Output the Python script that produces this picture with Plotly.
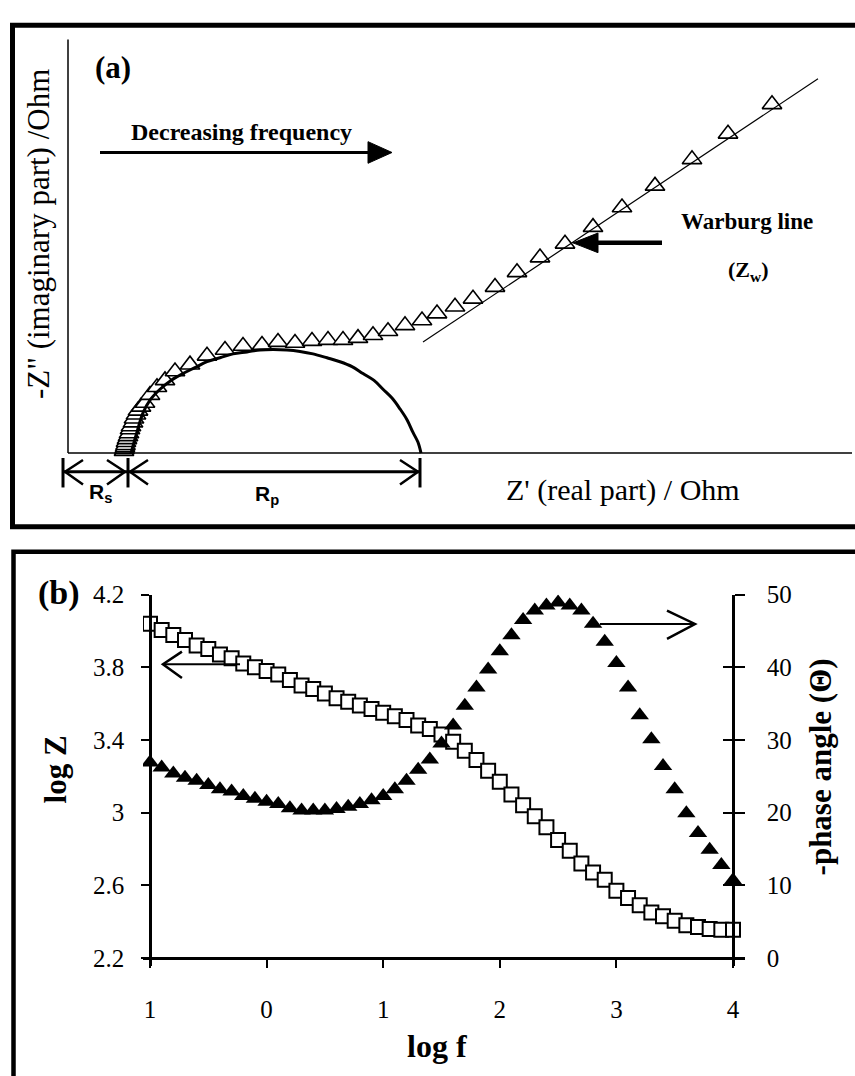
import plotly.graph_objects as go

W, H = 855, 1076

# ---------------- Panel (a): Nyquist plot (arbitrary Ohm units) ----------------
z_real = [56, 56.5, 57, 57.5, 58, 59, 60, 61, 62, 63, 65, 66, 68, 70, 73, 77, 82, 89, 97, 107,
          122, 139, 157, 175, 194, 210, 227, 244, 260, 275, 290, 305, 320, 337, 354, 369, 387,
          405, 427, 449, 472, 497, 525, 554, 587, 624, 660, 704]
z_imag = [2, 4, 6, 8, 11, 14, 17, 20, 24, 27, 31, 35, 39, 43, 47, 51, 59, 67, 74, 83,
          90, 99, 105, 109, 110, 113, 112, 114, 115, 115, 117, 120, 124, 130, 135, 142, 149,
          157, 169, 184, 199, 213, 230, 250, 272, 299, 325, 355]

fit_real = [63, 68, 75, 82, 92, 103, 115, 127, 139, 152, 165, 179, 192, 205, 219, 232, 245,
            259, 272, 284, 295, 306, 315, 324, 332, 339, 345, 350, 353]
fit_imag = [0, 18, 41, 54, 65, 74, 81, 87, 93, 97, 101, 103, 105, 105.5, 105, 103.5, 101,
            97, 93, 88, 81, 74, 65, 56, 45, 34, 21, 11, 0]

warburg_real = [355, 750]
warburg_imag = [113, 381]

# ---------------- Panel (b): Bode plot ----------------
log_f = [-1.0, -0.9, -0.8, -0.7, -0.6, -0.5, -0.4, -0.3, -0.2, -0.1, 0.0, 0.1, 0.2, 0.3, 0.4,
         0.5, 0.6, 0.7, 0.8, 0.9, 1.0, 1.1, 1.2, 1.3, 1.4, 1.5, 1.6, 1.7, 1.8, 1.9, 2.0, 2.1,
         2.2, 2.3, 2.4, 2.5, 2.6, 2.7, 2.8, 2.9, 3.0, 3.1, 3.2, 3.3, 3.4, 3.5, 3.6, 3.7, 3.8,
         3.9, 4.0]
log_Z = [4.04, 4.005, 3.978, 3.95, 3.92, 3.90, 3.87, 3.85, 3.82, 3.80, 3.78, 3.76, 3.73, 3.70,
         3.68, 3.655, 3.63, 3.61, 3.59, 3.57, 3.55, 3.53, 3.51, 3.48, 3.46, 3.43, 3.39, 3.34,
         3.29, 3.23, 3.17, 3.10, 3.04, 2.98, 2.92, 2.85, 2.79, 2.72, 2.67, 2.63, 2.57, 2.53,
         2.49, 2.45, 2.43, 2.405, 2.38, 2.37, 2.36, 2.355, 2.355]
phase = [26.9, 26.2, 25.4, 24.8, 24.4, 23.8, 23.2, 22.9, 22.3, 21.9, 21.5, 21.2, 20.6, 20.3,
         20.3, 20.3, 20.5, 20.8, 21.2, 21.7, 22.3, 23.2, 24.4, 25.9, 27.3, 29.5, 32.0, 34.7,
         37.2, 39.7, 42.2, 44.4, 46.5, 47.8, 48.5, 48.9, 48.5, 47.8, 46.0, 43.5, 40.6, 37.2,
         33.4, 30.1, 26.4, 23.2, 19.9, 17.2, 14.9, 12.8, 10.7]

x_tickvals = [-1, 0, 1, 2, 3, 4]
x_ticktext = ["1", "0", "1", "2", "3", "4"]
logz_tickvals = [2.2, 2.6, 3.0, 3.4, 3.8, 4.2]
logz_ticktext = ["2.2", "2.6", "3", "3.4", "3.8", "4.2"]
phase_tickvals = [0, 10, 20, 30, 40, 50]

SERIF = "Liberation Serif"
SANS = "Liberation Sans"


def px(x):
    return x / W


def py(y):
    return 1 - y / H


fig = go.Figure()

# panel (a) traces
fig.add_trace(go.Scatter(x=z_real, y=z_imag, mode="markers", xaxis="x", yaxis="y",
                         marker=dict(symbol="triangle-up", size=17, color="white",
                                     line=dict(color="black", width=1.6)),
                         hoverinfo="skip"))
fig.add_trace(go.Scatter(x=fit_real, y=fit_imag, mode="lines", xaxis="x", yaxis="y",
                         line=dict(color="black", width=3, shape="spline"), hoverinfo="skip"))
fig.add_trace(go.Scatter(x=warburg_real, y=warburg_imag, mode="lines", xaxis="x", yaxis="y",
                         line=dict(color="black", width=1.2), hoverinfo="skip"))

# panel (b) traces
fig.add_trace(go.Scatter(x=log_f, y=log_Z, mode="markers", xaxis="x2", yaxis="y2",
                         marker=dict(symbol="square", size=14, color="white",
                                     line=dict(color="black", width=2)),
                         hoverinfo="skip"))
fig.add_trace(go.Scatter(x=log_f, y=phase, mode="markers", xaxis="x2", yaxis="y3",
                         marker=dict(symbol="triangle-up", size=16, color="black",
                                     line=dict(width=0)),
                         hoverinfo="skip"))
fig.add_trace(go.Scatter(x=[None], y=[None], mode="markers", xaxis="x2", yaxis="y4",
                         hoverinfo="skip"))

shapes = []
# panel frames
shapes.append(dict(type="rect", xref="paper", yref="paper", x0=px(12.5), x1=px(880),
                   y0=py(523), y1=py(12.5), line=dict(color="black", width=5)))
shapes.append(dict(type="rect", xref="paper", yref="paper", x0=px(13.5), x1=px(880),
                   y0=py(1100), y1=py(548.5), line=dict(color="black", width=4.5)))


def seg(x0, y0, x1, y1, w, xr="x", yr="y", color="black"):
    shapes.append(dict(type="line", xref=xr, yref=yr, x0=x0, y0=y0, x1=x1, y1=y1,
                       line=dict(color=color, width=w)))


def path(d, w, xr="x", yr="y", fill=None):
    s = dict(type="path", xref=xr, yref=yr, path=d, line=dict(color="black", width=w))
    if fill:
        s["fillcolor"] = fill
    shapes.append(s)


# panel (a) axes lines
seg(0, 0, 0, 421, 1.5)
seg(0, 0, 784, 0, 1.5)

# Rs / Rp dimension markers
for xb in (-5, 60, 352):
    seg(xb, -5, xb, -35, 3)
seg(-5, -19, 60, -19, 3)
seg(60, -19, 352, -19, 3)
path("M 15,-7 L -3,-19 L 15,-32", 2.5)
path("M 39,-7 L 57,-19 L 39,-32", 2.5)
path("M 80,-7 L 62,-19 L 80,-32", 2.5)
path("M 332,-7 L 350,-19 L 332,-32", 2.5)

# Decreasing frequency arrow
seg(32, 306, 302, 306, 3)
path("M 300,317 L 324,306 L 300,295 Z", 1, fill="black")

# Warburg arrow
seg(527, 214, 594, 214, 4.5)
path("M 505,214 L 530,224 L 530,204 Z", 1, fill="black")

# panel (b) arrows
seg(-0.889, 3.816, -0.228, 3.816, 2, xr="x2", yr="y2")
path("M -0.726,3.886 L -0.889,3.816 L -0.726,3.741", 2.5, xr="x2", yr="y2")
seg(2.859, 45.95, 3.674, 45.95, 2, xr="x2", yr="y3")
path("M 3.434,47.8 L 3.674,45.95 L 3.434,43.9", 2.5, xr="x2", yr="y3")

annotations = []


def note(text, x, y, size, bold=False, angle=0, family=SERIF):
    if bold:
        text = "<b>" + text + "</b>"
    annotations.append(dict(text=text, x=px(x), y=py(y), xref="paper", yref="paper",
                            xanchor="center", yanchor="middle", showarrow=False,
                            textangle=angle, font=dict(family=family, size=size, color="black")))


note("(a)", 113, 55, 31, bold=True)
note("Decreasing frequency", 242, 121, 24, bold=True)
note("Warburg line", 747, 212, 23, bold=True)
note("(Z<sub>w</sub>)", 748, 263, 22, bold=True)
note("Z' (real part) / Ohm", 623, 486, 30)
note('-Z" (imaginary part) /Ohm', 38, 225, 31, angle=-90)
note("R<sub>s</sub>", 100, 489, 21, bold=True, family=SANS)
note("R<sub>p</sub>", 267, 491, 21, bold=True, family=SANS)
note("(b)", 59, 590, 34, bold=True)
note("log Z", 55, 770, 31, bold=True, angle=-90)
note("-phase angle (Θ)", 820, 768, 31, bold=True, angle=-90)
note("log f", 437, 1052, 32, bold=True)

tickfont = dict(family=SERIF, size=25, color="black")

fig.update_layout(
    width=W, height=H,
    margin=dict(l=0, r=0, t=0, b=0),
    paper_bgcolor="white", plot_bgcolor="rgba(0,0,0,0)",
    showlegend=False,
    shapes=shapes,
    annotations=annotations,
    xaxis=dict(domain=[px(20), px(852)], range=[-48, 784], visible=False, anchor="y"),
    yaxis=dict(domain=[py(512), py(20)], range=[-64, 428], visible=False, anchor="x"),
    xaxis2=dict(domain=[px(143), px(745)], range=[-1.06, 4.103], anchor="free",
                position=py(962), showline=True, linecolor="black", linewidth=2.5,
                ticks="outside", ticklen=8, tickwidth=2, tickcolor="black",
                tickvals=x_tickvals, ticktext=x_ticktext, tickfont=tickfont,
                ticklabelstandoff=20, showgrid=False, zeroline=False),
    yaxis2=dict(domain=[py(970), py(592)], range=[2.2 - 8 / 185, 4.2], anchor="free",
                position=px(150), side="left", showline=True, linecolor="black",
                linewidth=2.5, ticks="outside", ticklen=8, tickwidth=2, tickcolor="black",
                tickvals=logz_tickvals, ticktext=logz_ticktext, tickfont=tickfont,
                ticklabelstandoff=12, showgrid=False, zeroline=False),
    yaxis3=dict(domain=[py(970), py(592)], range=[-8 / 7.4, 50], anchor="free",
                position=px(733), side="right", overlaying="y2", showline=True,
                linecolor="black", linewidth=2.5, ticks="outside", ticklen=10, tickwidth=2,
                tickcolor="black", tickvals=phase_tickvals, tickfont=tickfont,
                ticklabelstandoff=17, showgrid=False, zeroline=False),
    yaxis4=dict(domain=[py(970), py(592)], range=[-8 / 7.4, 50], anchor="free",
                position=px(733), side="right", overlaying="y2", showline=False,
                ticks="inside", ticklen=10, tickwidth=2, tickcolor="black",
                tickvals=phase_tickvals, showticklabels=False, showgrid=False,
                zeroline=False),
)

fig.write_html("out.html")
